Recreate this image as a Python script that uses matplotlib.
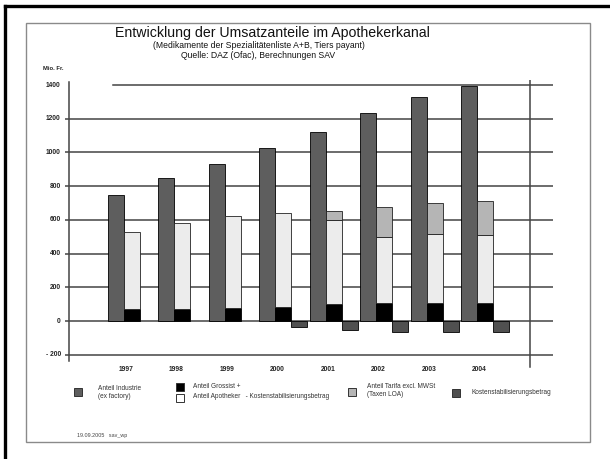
import matplotlib
matplotlib.use("Agg")
import matplotlib.pyplot as plt
from matplotlib.patches import Rectangle
from matplotlib.lines import Line2D
import numpy as np

plt.rcParams['font.family'] = ['Liberation Sans', 'DejaVu Sans']

# Data (Mio. Fr.)
years = ['1997', '1998', '1999', '2000', '2001', '2002', '2003', '2004']
industrie = [750, 850, 930, 1025, 1120, 1235, 1330, 1395]
grossist = [70, 70, 77, 83, 100, 107, 107, 107]
apotheker = [458, 512, 546, 558, 500, 391, 409, 403]
tarif = [0, 0, 0, 0, 53, 179, 184, 202]
kosten = [0, 0, 0, -35, -53, -65, -65, -65]
yticks = [-200, 0, 200, 400, 600, 800, 1000, 1200, 1400]
ytick_labels = ['- 200', '0', '200', '400', '600', '800', '1000', '1200', '1400']

c_ind = '#5e5e5e'
c_gro = '#000000'
c_apo = '#ececec'
c_tar = '#b5b5b5'
c_kos = '#505050'

W, H = 610, 459
fig = plt.figure(figsize=(W / 100, H / 100), dpi=100)

def fx(px):
    return px / W

def fy(py):
    return 1 - py / H

# axes spans px x 65..553, y 80..375
ax = fig.add_axes([fx(65), fy(375), fx(553) - fx(65), fy(80) - fy(375)])
ax.set_xlim(-1.167, 8.5)
ax.set_ylim(-320, 1430)
ax.axis('off')

x = np.arange(len(years))
w = 0.316
gc = '#444444'

# grid lines
for v, lab in zip(yticks, ytick_labels):
    x0 = -0.218 if v == 1400 else -1.167
    ax.plot([x0, 8.5], [v, v], color=gc, lw=1.1, zorder=1)
    ax.text(-1.25, v, lab, ha='right', va='center',
            fontsize=4.8, fontweight='bold', color='#222222')
ax.plot([-1.088, -1.088], [-235, 1420], color=gc, lw=1.1, zorder=1)
ax.plot([8.05, 8.05], [-270, 1440], color=gc, lw=1.1, zorder=1)

# bars
ax.bar(x - w / 2, industrie, width=w, color=c_ind, edgecolor='black', lw=0.6, zorder=3)
ax.bar(x + w / 2, grossist, width=w, color=c_gro, edgecolor='black', lw=0.6, zorder=3)
ax.bar(x + w / 2, apotheker, width=w, bottom=grossist, color=c_apo,
       edgecolor='#222222', lw=0.6, zorder=3)
tb = np.array(grossist) + np.array(apotheker)
tv = np.array(tarif)
m = tv > 0
ax.bar((x + w / 2)[m], tv[m], width=w, bottom=tb[m], color=c_tar,
       edgecolor='#222222', lw=0.6, zorder=3)
kv = np.array(kosten)
m = kv != 0
ax.bar((x + 3 * w / 2)[m], kv[m], width=w, color=c_kos, edgecolor='black', lw=0.6, zorder=3)

for i, yr in enumerate(years):
    ax.text(x[i] + 0.04, -290, yr, ha='center', va='center', fontsize=4.8,
            fontweight='bold', color='#222222')

ax.text(-1.6, 1500, 'Mio. Fr.', ha='left', va='center', fontsize=4.2,
        fontweight='bold', color='#222222', clip_on=False)

# titles
fig.text(fx(272), fy(33), 'Entwicklung der Umsatzanteile im Apothekerkanal',
         ha='center', va='center', fontsize=10.2, color='#111111')
fig.text(fx(259), fy(46), '(Medikamente der Spezialitätenliste A+B, Tiers payant)',
         ha='center', va='center', fontsize=6.2, color='#111111')
fig.text(fx(258), fy(56), 'Quelle: DAZ (Ofac), Berechnungen SAV',
         ha='center', va='center', fontsize=6.2, color='#111111')

# legend
def sq(px, py, color):
    fig.add_artist(Rectangle((fx(px - 4), fy(py + 4)), 8 / W, 8 / H,
                             facecolor=color, edgecolor='#333333', lw=0.7,
                             transform=fig.transFigure))

lg = dict(ha='left', va='center', fontsize=4.7, color='#333333')
sq(78, 392, c_ind)
fig.text(fx(98), fy(392), 'Anteil Industrie\n(ex factory)', linespacing=1.2, **lg)
sq(180, 387, c_gro)
sq(180, 398, '#ffffff')
fig.text(fx(193), fy(387), 'Anteil Grossist +', **lg)
fig.text(fx(193), fy(396), 'Anteil Apotheker   - Kostenstabilisierungsbetrag', **lg)
sq(352, 392, c_tar)
fig.text(fx(367), fy(391), 'Anteil Tarifa excl. MWSt\n(Taxen LOA)', linespacing=1.2, **lg)
sq(456, 393, c_kos)
fig.text(fx(472), fy(393), 'Kostenstabilisierungsbetrag', **lg)

fig.text(fx(77), fy(436), '19.09.2005   sav_wp', ha='left', va='center',
         fontsize=3.9, color='#444444')

# frames
fig.add_artist(Rectangle((fx(26), fy(442)), fx(590) - fx(26), fy(23) - fy(442),
                         fill=False, edgecolor='#8a8a8a', lw=1.0,
                         transform=fig.transFigure))
fig.add_artist(Line2D([fx(5), 1], [fy(6), fy(6)], color='black', lw=2.4,
                      transform=fig.transFigure))
fig.add_artist(Line2D([fx(5), fx(5)], [fy(6), 0], color='black', lw=2.4,
                      transform=fig.transFigure))

fig.savefig('out.png', dpi=100)
